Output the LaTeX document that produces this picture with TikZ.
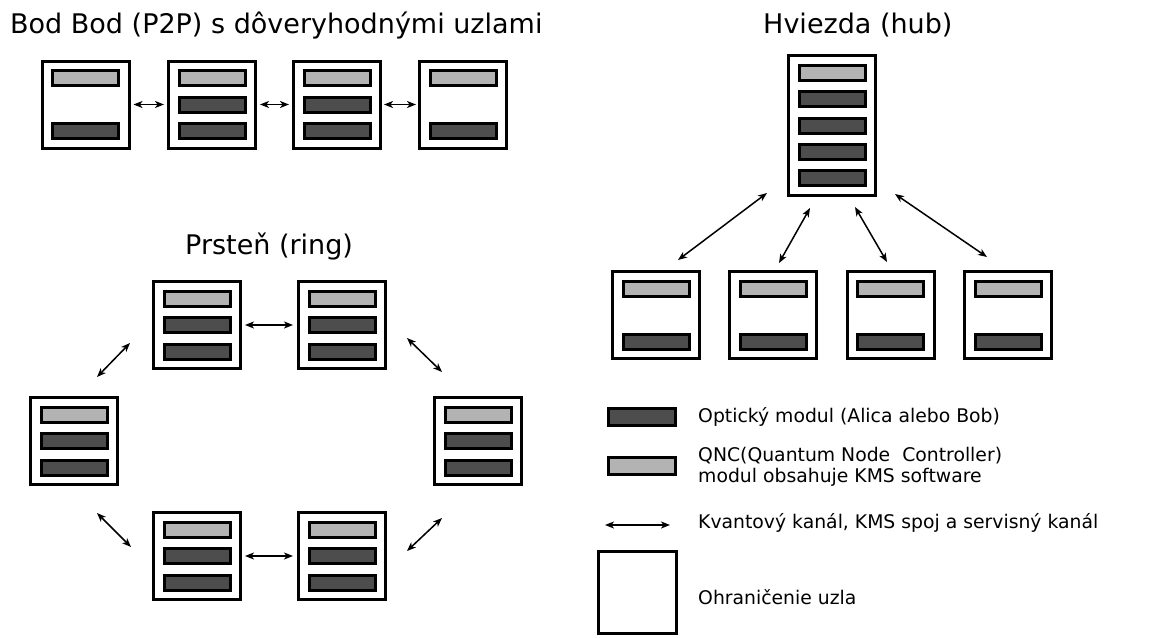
\documentclass[tikz,border=0pt]{standalone}
\usepackage{fontspec}
\setmainfont{DejaVu Sans}
\usetikzlibrary{arrows.meta}
\definecolor{qncgray}{HTML}{B3B3B3}
\definecolor{optgray}{HTML}{4D4D4D}
\tikzset{
  nodebox/.style={draw=black, line width=3pt, fill=white, rectangle, inner sep=0pt,
    minimum width=87pt, minimum height=87pt},
  modbase/.style={draw=black, line width=3pt, rectangle, inner sep=0pt,
    minimum width=66pt, minimum height=15pt},
  qncmod/.style={modbase, fill=qncgray},
  optmod/.style={modbase, fill=optgray},
  link/.style={arrows={Stealth[length=9pt,width=7pt,inset=2.5pt]-Stealth[length=9pt,width=7pt,inset=2.5pt]}, line width=1.5pt},
  title/.style={font=\fontsize{27}{32}\selectfont, inner sep=0pt},
  legtext/.style={font=\fontsize{18.8}{21.5}\selectfont, inner sep=0pt, anchor=west, align=left},
  twomod/.pic={
    \node[nodebox] (-box) at (0,0) {};
    \node[qncmod] (-q) at (0,-26.5) {};
    \node[optmod] (-o) at (0,26.5) {};
  },
  threemod/.pic={
    \node[nodebox] (-box) at (0,0) {};
    \node[qncmod] (-q) at (0,-26.5) {};
    \node[optmod] (-o1) at (0,0) {};
    \node[optmod] (-o2) at (0,26.5) {};
  },
  hubmod/.pic={
    \node[nodebox, minimum height=140pt] (-box) at (0,0) {};
    \node[qncmod] (-q) at (0,-53) {};
    \node[optmod] (-o1) at (0,-26.5) {};
    \node[optmod] (-o2) at (0,0) {};
    \node[optmod] (-o3) at (0,26) {};
    \node[optmod] (-o4) at (0,52) {};
  }
}
\begin{document}
\begin{tikzpicture}[x=1pt,y=-1pt]
\useasboundingbox[fill=white] (0,0) rectangle (1158,637);

% ---- P2P ----
\node[title, anchor=base west] (tp2p) at (10,33) {Bod Bod (P2P) s dôveryhodnými uzlami};
\pic (p1) at (85.5,104.5) {twomod};
\pic (p2) at (212,104.5) {threemod};
\pic (p3) at (337,104.5) {threemod};
\pic (p4) at (463,104.5) {twomod};
\draw[link, shorten <=3pt, shorten >=3pt] (p1-box.east) -- (p2-box.west);
\draw[link, shorten <=3pt, shorten >=3pt] (p2-box.east) -- (p3-box.west);
\draw[link, shorten <=2pt, shorten >=2pt] (p3-box.east) -- (p4-box.west);

% ---- Hub ----
\node[title, anchor=base west] (thub) at (763,33) {Hviezda (hub)};
\pic (hub) at (832,125.5) {hubmod};
\pic (h1) at (656,315) {twomod};
\pic (h2) at (773,315) {twomod};
\pic (h3) at (890.5,315) {twomod};
\pic (h4) at (1008,315) {twomod};
\coordinate (h1a) at (767,193); \coordinate (h1b) at (678,260);
\coordinate (h2a) at (810,208); \coordinate (h2b) at (779,263);
\coordinate (h3a) at (855,207); \coordinate (h3b) at (887,262);
\coordinate (h4a) at (895,194); \coordinate (h4b) at (987,257);
\draw[link] (h1a) -- (h1b);
\draw[link] (h2a) -- (h2b);
\draw[link] (h3a) -- (h3b);
\draw[link] (h4a) -- (h4b);

% ---- Ring ----
\node[title, anchor=base west] (tring) at (185,254) {Prsteň (ring)};
\pic (rtl) at (197,325) {threemod};
\pic (rtr) at (342,325) {threemod};
\pic (rl) at (74,441) {threemod};
\pic (rr) at (478,441) {threemod};
\pic (rbl) at (197,556) {threemod};
\pic (rbr) at (342,556) {threemod};
\draw[link, shorten <=3pt, shorten >=4pt] (rtl-box.east) -- (rtr-box.west);
\draw[link, shorten <=3pt, shorten >=4pt] (rbl-box.east) -- (rbr-box.west);
\coordinate (r1a) at (130,343); \coordinate (r1b) at (97,377);
\coordinate (r2a) at (407,338); \coordinate (r2b) at (442,372);
\coordinate (r3a) at (97,513); \coordinate (r3b) at (131,547);
\coordinate (r4a) at (442,518); \coordinate (r4b) at (407,551);
\draw[link] (r1a) -- (r1b);
\draw[link] (r2a) -- (r2b);
\draw[link] (r3a) -- (r3b);
\draw[link] (r4a) -- (r4b);

% ---- Legend ----
\node[optmod, minimum width=67pt, minimum height=17pt] (lopt) at (642,417) {};
\node[legtext] (lopttext) at (698,417) {Optický modul (Alica alebo Bob)};
\node[qncmod, minimum width=67pt, minimum height=17pt] (lqnc) at (642,466) {};
\node[legtext] (lqnctext) at (698,467) {QNC(Quantum Node\ \ Controller)\\modul obsahuje KMS software};
\coordinate (lla) at (605,525); \coordinate (llb) at (670,525);
\draw[link] (lla) -- (llb);
\node[legtext] (llinktext) at (698,523) {Kvantový kanál, KMS spoj a servisný kanál};
\node[draw=black, line width=3pt, rectangle, inner sep=0pt, minimum width=78pt, minimum height=82pt] (lbox) at (637.5,592.5) {};
\node[legtext] (lboxtext) at (698,597) {Ohraničenie uzla};
\end{tikzpicture}
\end{document}
